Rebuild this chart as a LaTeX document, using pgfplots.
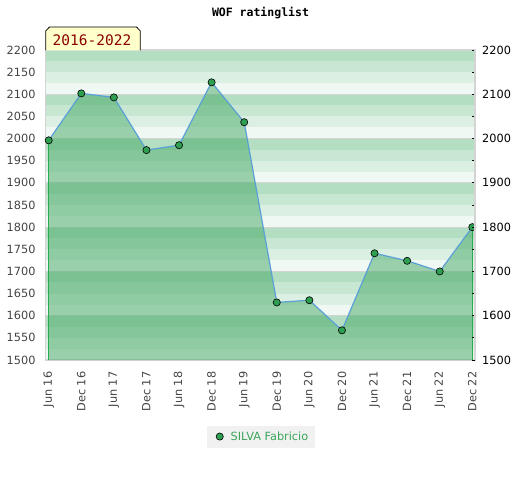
\documentclass[border=0pt]{standalone}
\usepackage{fontspec}
\setmainfont{DejaVu Sans}
\newfontfamily\monofont{DejaVu Sans Mono}
\usepackage{pgfplots}
\pgfplotsset{compat=1.18}
\definecolor{s1}{RGB}{179,222,193}
\definecolor{s2}{RGB}{200,231,210}
\definecolor{s3}{RGB}{220,239,227}
\definecolor{s4}{RGB}{240,248,243}
\definecolor{areafill}{RGB}{67,168,101}
\definecolor{areaedge}{RGB}{40,170,80}
\definecolor{linecol}{RGB}{90,160,215}
\definecolor{markcol}{RGB}{46,158,80}
\definecolor{legtext}{RGB}{58,166,90}
\definecolor{legfill}{RGB}{241,241,241}
\definecolor{labgray}{RGB}{68,68,68}
\definecolor{framegray}{RGB}{212,212,212}
\definecolor{boxfill}{RGB}{255,255,204}
\definecolor{boxtext}{RGB}{139,0,0}
\begin{document}
\begin{tikzpicture}[x=1pt,y=1pt]
\useasboundingbox (0,0) rectangle (520,480);
% background stripes (axis box: x 45.7..475, y 120..430)
\foreach \k in {0,...,6}{
  \fill[s4] (45.7,{120+\k*310/7}) rectangle (475,{120+\k*310/7+310/28});
  \fill[s3] (45.7,{120+\k*310/7+310/28}) rectangle (475,{120+\k*310/7+2*310/28});
  \fill[s2] (45.7,{120+\k*310/7+2*310/28}) rectangle (475,{120+\k*310/7+3*310/28});
  \fill[s1] (45.7,{120+\k*310/7+3*310/28}) rectangle (475,{120+(\k+1)*310/7});
}
\begin{axis}[
  at={(45.7pt,120pt)}, anchor=south west,
  scale only axis, width=429.3pt, height=310pt,
  xmin=-0.092, xmax=13.083, ymin=1500, ymax=2200,
  axis line style={framegray, line width=1.2pt},
  xtick={0,...,13},
  xticklabels={Jun 16,Dec 16,Jun 17,Dec 17,Jun 18,Dec 18,Jun 19,Dec 19,Jun 20,Dec 20,Jun 21,Dec 21,Jun 22,Dec 22},
  x tick label style={rotate=90, anchor=east, text=labgray, font=\fontsize{11.3}{12}\selectfont, inner sep=0pt, xshift=-11.5pt},
  ytick={1500,1550,...,2200},
  y tick label style={text=labgray, font=\fontsize{11.3}{12}\selectfont, inner sep=0pt, xshift=-10pt, /pgf/number format/1000 sep={}},
  /pgf/number format/assume math mode=true,
  major tick length=0pt,
  ytick pos=left, xtick pos=bottom,
  extra y ticks={1600,1700,1800,1900,2000,2100},
  extra y tick labels={},
  extra y tick style={grid=major, major tick length=0pt},
  grid style={framegray, line width=0.8pt},
  legend style={at={(0.5015,-0.247)}, anchor=center, fill=legfill, draw=none,
    font=\fontsize{11.3}{12}\selectfont, text=legtext, inner xsep=5pt, inner ysep=4pt},
  legend image code/.code={\path[draw=none,fill=none] (0pt,0pt) -- (17pt,0pt); \draw[#1] plot coordinates {(8pt,0pt)};},
]
\addplot[fill=areafill, fill opacity=0.5, draw=none, forget plot] coordinates {
(0,1500) (0,1996) (1,2102) (2,2093) (3,1974) (4,1985) (5,2127) (6,2037)
(7,1630) (8,1635) (9,1567) (10,1741) (11,1724) (12,1700) (13,1800) (13,1500)};
\addplot[areaedge, line width=1pt, forget plot] coordinates {(0,1500) (0,1996)};
\addplot[areaedge, line width=1pt, forget plot] coordinates {(13,1500) (13,1800)};
\addplot[linecol, line width=1.2pt, mark=*, mark size=3.6pt,
  mark options={fill=markcol, draw=black, line width=0.6pt}, forget plot] coordinates {
(0,1996) (1,2102) (2,2093) (3,1974) (4,1985) (5,2127) (6,2037)
(7,1630) (8,1635) (9,1567) (10,1741) (11,1724) (12,1700) (13,1800)};
\addlegendimage{only marks, mark=*, mark size=3.6pt, mark options={fill=markcol, draw=black, line width=0.6pt}}
\addlegendentry{SILVA Fabricio}
\end{axis}
\begin{axis}[
  at={(45.7pt,120pt)}, anchor=south west,
  scale only axis, width=429.3pt, height=310pt,
  xmin=-0.092, xmax=13.083, ymin=1500, ymax=2200,
  axis x line=none, axis y line*=right,
  axis line style={framegray, line width=1.2pt},
  ytick={1500,1600,...,2200},
  minor ytick={1550,1650,...,2150},
  tick style={black, line width=0.8pt},
  major tick length=3pt, minor tick length=3pt,
  tick align=inside,
  y tick label style={text=black, font=\fontsize{11.3}{12}\selectfont, inner sep=0pt, xshift=7pt, /pgf/number format/1000 sep={}},
  /pgf/number format/assume math mode=true,
]
\addplot[draw=none] coordinates {(0,1500)};
\end{axis}
\draw[fill=boxfill, draw=black, line width=0.8pt] (45.7,429.5) -- (45.7,449) -- (49.5,453) -- (136.5,453) -- (140.3,449) -- (140.3,429.5);
\node[text=boxtext, font=\monofont\fontsize{14.5}{16}\selectfont, inner sep=0pt] at (92,439.7) {2016-2022};
\node[font=\monofont\bfseries\fontsize{11.5}{12}\selectfont, inner sep=0pt] at (260.5,467) {WOF ratinglist};
\end{tikzpicture}
\end{document}
